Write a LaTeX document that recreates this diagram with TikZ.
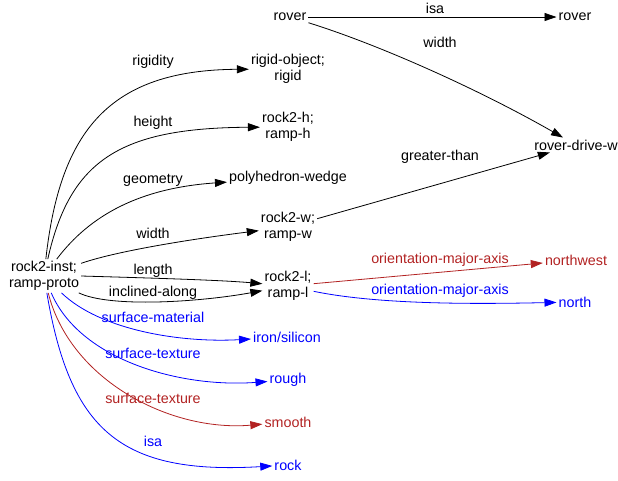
\documentclass[tikz,border=0pt]{standalone}
\usepackage{fontspec}
\setmainfont{Liberation Sans}
\usetikzlibrary{arrows.meta}
\definecolor{cred}{HTML}{B22222}
\definecolor{cblue}{HTML}{0000FF}
\begin{document}
\begin{tikzpicture}[x=1pt,y=-1pt,
  nd/.style={align=center,inner sep=2pt,font=\fontsize{14.3}{16}\selectfont},
  lb/.style={inner sep=0pt,font=\fontsize{14.3}{16}\selectfont},
  arr/.style={-{Triangle[length=12pt,width=8pt]},line width=0.8pt},
  bl/.style={arr,draw=cblue},
  rd/.style={arr,draw=cred}]
\useasboundingbox (0,0) rectangle (618,480);
% nodes
\node[nd] (rover1) at (290,17) {rover};
\node[nd] (rover2) at (575,17) {rover};
\node[nd] (rigid) at (288,69) {rigid-object;\\rigid};
\node[nd] (rh) at (288,127) {rock2-h;\\ramp-h};
\node[nd] (poly) at (288,178) {polyhedron-wedge};
\node[nd] (rw) at (288,227) {rock2-w;\\ramp-w};
\node[nd] (inst) at (44,276) {rock2-inst;\\ramp-proto};
\node[nd] (rl) at (288,286) {rock2-l;\\ramp-l};
\node[nd] (rdw) at (576,145) {rover-drive-w};
\node[nd,text=cred] (nw) at (576,260) {northwest};
\node[nd,text=cblue] (north) at (575,302) {north};
\node[nd,text=cblue] (iron) at (287,337) {iron/silicon};
\node[nd,text=cblue] (rough) at (288,380) {rough};
\node[nd,text=cred] (smooth) at (288,422) {smooth};
\node[nd,text=cblue] (rock) at (288,465) {rock};
% labels
\node[lb] (l1) at (435,8) {isa};
\node[lb] (l2) at (440,42) {width};
\node[lb] (l3) at (440,157) {greater-than};
\node[lb] (l4) at (153,62) {rigidity};
\node[lb] (l5) at (153,123) {height};
\node[lb] (l6) at (153,180) {geometry};
\node[lb] (l7) at (153,233) {width};
\node[lb] (l8) at (153,271) {length};
\node[lb] (l9) at (153,293) {inclined-along};
\node[lb,text=cblue] (l10) at (153,317) {surface-material};
\node[lb,text=cblue] (l11) at (153,353) {surface-texture};
\node[lb,text=cred] (l12) at (153,398) {surface-texture};
\node[lb,text=cblue] (l13) at (153,441) {isa};
\node[lb,text=cred] (l14) at (440,260) {orientation-major-axis};
\node[lb,text=cblue] (l15) at (440,291) {orientation-major-axis};
% edges
\draw[arr] (rover1) -- (rover2);
\draw[arr] (rover1) .. controls (380,45) and (480,90) .. (rdw);
\draw[arr] (rw) -- (rdw);
\draw[arr] (inst) .. controls (60,130) and (110,70) .. (rigid);
\draw[arr] (inst) .. controls (70,160) and (120,128) .. (rh);
\draw[arr] (inst) .. controls (90,215) and (140,188) .. (poly);
\draw[arr] (inst) .. controls (120,250) and (200,238) .. (rw);
\draw[arr] (inst.east) .. controls (150,278) and (220,280) .. (rl);
\draw[arr] (inst) .. controls (110,308) and (200,302) .. (rl);
\draw[bl] (inst) .. controls (100,330) and (180,343) .. (iron);
\draw[bl] (inst) .. controls (80,360) and (180,388) .. (rough);
\draw[rd] (inst) .. controls (70,380) and (170,432) .. (smooth);
\draw[bl] (inst) .. controls (70,430) and (120,475) .. (rock);
\draw[rd] (rl) -- (nw);
\draw[bl] (rl) .. controls (380,305) and (480,304) .. (north);
\end{tikzpicture}
\end{document}
